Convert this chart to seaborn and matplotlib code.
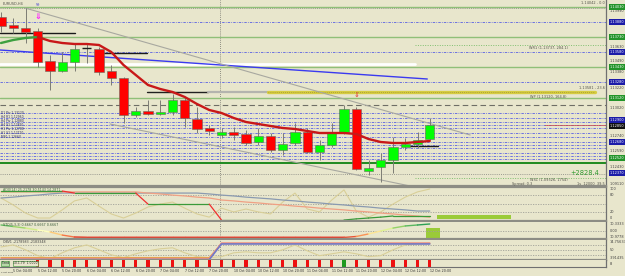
import numpy as np
import pandas as pd
import matplotlib
matplotlib.use("Agg")
import matplotlib.pyplot as plt
import matplotlib.transforms as mtransforms
import seaborn as sns

# ------------------------------------------------------------------ data
idx = list(range(36))
opens  = [1.1393,1.1385,1.1382,1.1379,1.1349,1.1339,1.1348,1.1362,1.1361,1.1339,1.1332,1.1295,
          1.1299,1.1296,1.1298,1.1310,1.1291,1.1282,1.1275,1.1278,1.1276,1.1268,1.1274,1.1260,
          1.1267,1.1278,1.1258,1.1265,1.1278,1.1301,1.1239,1.1243,1.1250,1.1263,1.1266,1.1271]
highs  = [1.1398,1.1392,1.1402,1.1382,1.1355,1.1358,1.1367,1.1367,1.1363,1.1345,1.1333,1.1303,
          1.1310,1.1310,1.1316,1.1313,1.1303,1.1285,1.1282,1.1283,1.1280,1.1282,1.1277,1.1277,
          1.1287,1.1282,1.1270,1.1287,1.1305,1.1303,1.1250,1.1257,1.1273,1.1272,1.1278,1.1292]
lows   = [1.1378,1.1377,1.1367,1.1343,1.1320,1.1338,1.1339,1.1347,1.1335,1.1325,1.1287,1.1293,
          1.1295,1.1295,1.1295,1.1283,1.1277,1.1275,1.1272,1.1270,1.1265,1.1265,1.1258,1.1255,
          1.1265,1.1257,1.1250,1.1263,1.1276,1.1240,1.1235,1.1228,1.1237,1.1260,1.1262,1.1270]
closes = [1.1384,1.1382,1.1378,1.1348,1.1339,1.1348,1.1361,1.1362,1.1338,1.1332,1.1295,1.1299,
          1.1296,1.1298,1.1310,1.1292,1.1281,1.1279,1.1278,1.1275,1.1267,1.1274,1.1260,1.1266,
          1.1278,1.1258,1.1265,1.1278,1.1301,1.1241,1.1242,1.1250,1.1263,1.1266,1.1270,1.1285]
ma_vals = [1.1367,1.1370,1.1372,1.1373,1.1369,1.1367,1.1366,1.1366,1.1365,1.1358,1.1345,1.1335,
           1.1325,1.1321,1.1318,1.1313,1.1306,1.1300,1.1297,1.1292,1.1288,1.1286,1.1284,1.1282,
           1.1281,1.1279,1.1277,1.1277,1.1277,1.1276,1.1271,1.1268,1.1267,1.1267,1.1268,1.1269]
ma_green_until = 3

x_labels = ["5 Oct 04:00","5 Oct 12:00","5 Oct 20:00","6 Oct 04:00","6 Oct 12:00","6 Oct 20:00",
            "7 Oct 04:00","7 Oct 12:00","7 Oct 20:00","10 Oct 04:00","10 Oct 12:00","10 Oct 20:00",
            "11 Oct 04:00","11 Oct 12:00","11 Oct 20:00","12 Oct 04:00","12 Oct 12:00","12 Oct 20:00"]
x_label_idx = [1,3,5,7,9,11,13,15,17,19,21,23,25,27,29,31,33,35]
first_date_label = "4 Oct 2022"

green_levels = [1.1403, 1.1373, 1.1343, 1.1312]
dark_green_level = 1.1247
blue_dot_levels = [1.1388,1.1358,1.1328,1.1297,1.1292,1.1288,1.1285,1.1282,1.1277,
                   1.1273,1.1268,1.1265,1.1262,1.1257,1.1254,1.1251]
gray_dot_levels = [1.1402, 1.1236]
green_dot_levels = [1.1365, 1.1232]
white_level = 1.1346
dash_level = 1.1305
yellow_level = 1.1318
short_black = [(-0.1, 6.0, 1.1377), (8.1, 11.9, 1.1357), (33.4, 35.7, 1.1264)]
blue_trend_x, blue_trend_y = [-0.1, 34.8], [1.1360, 1.1331]
gray_up_x, gray_up_y = [1.96, 38.3], [1.1402, 1.1275]
gray_lo_x, gray_lo_y = [8.9, 33.4], [1.1286, 1.1224]

right_plain = [1.1399,1.1363,1.1349,1.1338,1.1322,1.1302,1.1274,1.1259,1.1243]
right_green = [1.1403,1.1373,1.1343,1.1312,1.1252]
right_blue  = [1.1388,1.1358,1.1328,1.1290,1.1268,1.1237]
current_price = 1.1285

# indicator 1 (0..100)
sub1_a = [90]*12 + [86,83,79,76,72,69,62,59,55,52,48,45,41,38,34,31,28,24,21,17,14,10,7,3]
sub1_b = [69,72,76,79,83] + [86]*12 + [83,79,76,72,69,66,62,59,55,52,48,45,41,38,34,31,28,24,24]
sub1_c = [93]*6 + [86]*6 + [48]*6 + [-7]*11 + [-3,0,3,7,7,7,7]
sub1_d = [69,45,17,0,0,28,59,69,41,14,0,17,38,48,55,34,14,3,34,21,31,21,14,55,86,31,21,62,97,24,
          3,21,48,72,90,100]
box1_x, box1_y = [35.6, 41.6], [-3, 10]
# indicator 2 (0..1)
sub2_k = [0.93,0.82,0.71,0.57,0.43,0.21,0.07] + [0.04]*22 + [0.11,0.29,0.50,0.71,0.86,0.93,1.0]
sub2_sig_from, sub2_sig_to, sub2_sig_val = 6, 28, 0.0
box2_x, box2_y = [34.7, 35.8], [0.0, 0.71]
# indicator 3 (0..100)
sub3_w = [76,88,59,24,6,41,71,88,59,29,12,35,53,65,71,41,18,12,18,41,47,41,41,59,88,53,24,35,
          47,35,18,24,59,88,94,100]
sub3_e = [6]*18 + [100]*18
sub3_f = [0]*18 + [94]*18
sub3_g = [12]*18 + [97]*18
strip_signal = ['n']*3 + ['s']*25 + ['b'] + ['s']*7

# ------------------------------------------------------------------ style
BG = "#e8e6cc"
sns.set_theme(style="white", rc={"axes.facecolor": BG, "figure.facecolor": BG})
plt.rcParams["font.family"] = ["DejaVu Sans"]

W, H, DPI = 625, 276, 100
fig = plt.figure(figsize=(W / DPI, H / DPI), dpi=DPI, facecolor=BG)
AXR = 606
XL = (-1 / 12.25, (AXR - 1) / 12.25)
FS_AX = 2.5   # right axis / small label size
FS_T = 2.5    # small chart text


def px_axes(x0, y0, x1, y1):
    a = fig.add_axes([x0 / W, 1 - y1 / H, (x1 - x0) / W, (y1 - y0) / H])
    a.set_facecolor(BG)
    a.set_xlim(*XL)
    a.set_xticks([])
    a.set_yticks([])
    for s in a.spines.values():
        s.set_visible(False)
    a.spines["right"].set_visible(True)
    a.spines["right"].set_color("#707070")
    a.spines["right"].set_linewidth(0.9)
    return a


def sep(a, where):
    a.spines[where].set_visible(True)
    a.spines[where].set_color("#8c8c84")
    a.spines[where].set_linewidth(1.6)


ax = px_axes(0, 0, AXR, 186)
s1 = px_axes(0, 187, AXR, 221)
s2 = px_axes(0, 222, AXR, 239)
s3 = px_axes(0, 240, AXR, 260)
st = px_axes(0, 260, AXR, 267)
sep(ax, "bottom"); sep(s1, "top"); sep(s1, "bottom"); sep(s2, "bottom"); sep(s3, "bottom")
st.spines["bottom"].set_visible(True); st.spines["bottom"].set_color("#707070")
st.spines["bottom"].set_linewidth(0.8)

ax.set_ylim(1.1224, 1.1410)
s1.set_ylim(-10.3, 106.9)
s2.set_ylim(-0.071, 1.143)
s3.set_ylim(-2, 117.6)
st.set_ylim(0, 1)

# ------------------------------------------------------------------ main panel lines
for lv in green_levels:
    ax.axhline(lv, color="#8fbf78", lw=1.0, zorder=1)
ax.axhline(dark_green_level, color="#1f8a1f", lw=1.4, zorder=1)
for lv in blue_dot_levels:
    ax.axhline(lv, color="#6c72e0", lw=0.7, ls=(0, (2.5, 1.2, 0.8, 1.2)), zorder=1)
for lv in gray_dot_levels:
    ax.axhline(lv, color="#9a9a90", lw=0.7, ls=(0, (1, 1.2)), zorder=1)
for lv in green_dot_levels:
    ax.plot([33.8, XL[1]], [lv, lv], color="#7fbf6f", lw=0.7, ls=(0, (1, 1.5)), zorder=1)
ax.plot([XL[0], 33.8], [white_level, white_level], color="#ffffff", lw=2.0, zorder=1)
ax.axhline(dash_level, color="#6e6e66", lw=0.8, ls=(0, (5, 3)), zorder=1)
ax.plot([11.9, 16.9], [yellow_level] * 2, color="#202020", lw=1.0, zorder=2)
ax.plot([16.9, 21.8], [yellow_level] * 2, color="#b4b4ae", lw=1.6, zorder=2)
ax.plot([21.8, 48.5], [yellow_level] * 2, color="#d6cc40", lw=2.4, zorder=2)
ax.plot([21.8, 48.5], [yellow_level] * 2, color="#8a8030", lw=0.5, ls=(0, (1, 2)), zorder=2)
for x0, x1, lv in short_black:
    ax.plot([x0, x1], [lv, lv], color="#1a1a1a", lw=1.0, zorder=2)
sns.lineplot(x=blue_trend_x, y=blue_trend_y, ax=ax, color="#3a3af0", lw=1.0, zorder=2)
sns.lineplot(x=gray_up_x, y=gray_up_y, ax=ax, color="#a8a8a0", lw=0.8, zorder=2)
sns.lineplot(x=gray_lo_x, y=gray_lo_y, ax=ax, color="#a8a8a0", lw=0.8, zorder=2)
ax.axhline(current_price, xmin=0.9, color="#d04040", lw=0.5, zorder=2)

# candles
for i, o, h, l, c in zip(idx, opens, highs, lows, closes):
    ax.vlines(i, l, h, color="#7c7c74", lw=0.7, zorder=4)
    if abs(c - o) < 1e-9:
        ax.hlines(o, i - 0.37, i + 0.37, color="#202020", lw=1.0, zorder=5)
    else:
        col = "#00ff00" if c > o else "#ff0000"
        ax.bar(i, abs(c - o), bottom=min(o, c), width=0.74, color=col,
               edgecolor="#6a6a60", lw=0.4, zorder=5)

# moving average
sns.lineplot(x=idx[:ma_green_until + 1], y=ma_vals[:ma_green_until + 1], ax=ax,
             color="#3da040", lw=1.7, zorder=6)
sns.lineplot(x=idx[ma_green_until:], y=ma_vals[ma_green_until:], ax=ax,
             color="#c81818", lw=1.7, zorder=6)

# arrows
ax.text(3, highs[3] + 0.0007, "\u21d3", color="#ff20ff", fontsize=6, ha="center", va="bottom",
        fontweight="bold", zorder=7)
ax.text(29, highs[29] + 0.0009, "\u21d3", color="#e03030", fontsize=5, ha="center", va="bottom", zorder=7)

# main texts
T = dict(fontsize=FS_T, color="#505048")
XR = AXR / 12.25 - 0.15
ax.text(0.1, 1.1406, "EURUSD,H4", va="center", **T)
ax.text(2.8, 1.1406, "\u00a7\u00a7", color="#3a3ad0", fontsize=3.2, va="center")
ax.text(XR, 1.14045, "1.14042 - 0.0", ha="right", va="bottom", **T)
ax.text(44.7, 1.1362, "WR1 (1.13737, 284.1)", ha="center", va="center", **T)
ax.text(XR, 1.1320, "1.13581 - 23.6", ha="right", va="bottom", **T)
ax.text(44.7, 1.1313, "WP (1.13120, 164.8)", ha="center", va="center", **T)
ax.text(48.8, 1.1237, "+2828.4", ha="right", va="center", fontsize=4.8, color="#2f9a2f")
ax.text(44.7, 1.1230, "WS1 (1.09326, 1754)", ha="center", va="center", **T)
ax.text(41.7, 1.12265, "Spread: 0.3", ha="left", va="center", **T)
ax.text(XR, 1.12265, "1s  12000  39.5", ha="right", va="center", **T)
left_txt = ["D1 Piv 1.13120", "H4 R1 1.12960", "H4 Piv 1.12880", "H4 S1 1.12820",
            "H1 Piv 1.12780", "H1 S1 1.12710", "M30 1.12660"]
for k, t in enumerate(left_txt):
    ax.text(0.0, 1.1297 - k * 0.0004, t, fontsize=2.2, color="#2a2a60", va="center")

# right axis of main
tr = mtransforms.blended_transform_factory(ax.transAxes, ax.transData)
R = dict(transform=tr, fontsize=FS_AX, va="center", ha="left", clip_on=False)
for p in right_plain:
    ax.text(1.006, p, f"{p:.5f}", color="#404040", **R)
for p in right_green:
    ax.text(1.006, p, f"{p:.5f}", color="#ffffff",
            bbox=dict(boxstyle="square,pad=0.2", fc="#23942a", ec="none"), **R)
for p in right_blue:
    ax.text(1.006, p, f"{p:.5f}", color="#ffffff",
            bbox=dict(boxstyle="square,pad=0.2", fc="#1c1ca8", ec="none"), **R)
ax.text(1.006, current_price - 0.0001, f"{current_price:.5f}", color="#ffffff",
        bbox=dict(boxstyle="square,pad=0.2", fc="#101010", ec="none"), **R)
ax.text(1.006, 1.12265, "1.09110", color="#404040", **R)

# ------------------------------------------------------------------ sub 1
for g in (80, 50, 20):
    s1.axhline(g, color="#a0a098", lw=0.6, ls=(0, (1.5, 1.5)))
sns.lineplot(x=idx, y=sub1_d, ax=s1, color="#d9cf98", lw=0.8)
sns.lineplot(x=idx, y=sub1_b, ax=s1, color="#8a9ab0", lw=0.9)
sns.lineplot(x=idx, y=sub1_a, ax=s1, color="#f0a084", lw=0.9)
for i in range(len(sub1_c) - 1):
    col = "#f03030" if sub1_c[i + 1] < sub1_c[i] else "#3a9a3a"
    s1.plot([i, i + 1], sub1_c[i:i + 2], color=col, lw=0.9)
s1.fill_between(box1_x, box1_y[0], box1_y[1], color="#9acb38", lw=0)
s1.text(0.2, 97, "ADX(14) 25.2178 30.5143 14.2871", fontsize=2.3, color="#3e6a3e", va="center")
tr1 = mtransforms.blended_transform_factory(s1.transAxes, s1.transData)
R1 = dict(transform=tr1, fontsize=FS_AX, color="#404040", va="center", clip_on=False)
for v, t in ((100, "100"), (80, "80"), (20, "20"), (0, "0")):
    s1.text(1.006, v, t, **R1)

# ------------------------------------------------------------------ sub 2
s2.axhline(0.5, color="#a0a098", lw=0.6, ls=(0, (1.5, 1.5)))
s2.plot(idx[sub2_sig_from:sub2_sig_to + 1], [sub2_sig_val] * (sub2_sig_to - sub2_sig_from + 1),
        color="#f0a090", lw=2.6)
cm = plt.get_cmap("RdYlGn")
for i in range(len(sub2_k) - 1):
    s2.plot([i, i + 1], sub2_k[i:i + 2], color=cm(0.1 + 0.8 * (sub2_k[i] + sub2_k[i + 1]) / 2),
            lw=1.0)
s2.fill_between(box2_x, box2_y[0], box2_y[1], color="#9acb38", lw=0)
s2.text(0.2, 0.9, "STO(5,3,3) 0.6667 0.6667 0.6667", fontsize=2.3, color="#3a5a3a", va="center")
tr2 = mtransforms.blended_transform_factory(s2.transAxes, s2.transData)
R2 = dict(transform=tr2, fontsize=FS_AX, color="#404040", va="center", clip_on=False)
for v, t in ((1.0, "10.3333"), (0.5, "0.00"), (0.1, "10.9778")):
    s2.text(1.006, v, t, **R2)

# ------------------------------------------------------------------ sub 3
for g in (88, 59, 29):
    s3.axhline(g, color="#a0a098", lw=0.6, ls=(0, (1.5, 1.5)))
sns.lineplot(x=idx, y=sub3_w, ax=s3, color="#d9cf98", lw=0.8)
sns.lineplot(x=idx, y=sub3_g, ax=s3, color="#e8a050", lw=1.0)
sns.lineplot(x=idx, y=sub3_e, ax=s3, color="#f09488", lw=1.0)
sns.lineplot(x=idx, y=sub3_f, ax=s3, color="#7078c8", lw=1.2)
s3.text(0.2, 106, "OBV1 -2178983 -2183348", fontsize=2.3, color="#404040", va="center")
tr3 = mtransforms.blended_transform_factory(s3.transAxes, s3.transData)
R3 = dict(transform=tr3, fontsize=FS_AX, color="#404040", va="center", clip_on=False)
for v, t in ((106, "14.75633"), (59, "50"), (12, "3.91435")):
    s3.text(1.006, v, t, **R3)

# ------------------------------------------------------------------ strip + x labels
for i, sgn in zip(idx, strip_signal):
    if sgn == "n":
        continue
    st.bar(i, 0.9, bottom=0.05, width=0.26, color="#1e9a1e" if sgn == "b" else "#ee1010", lw=0)
st.text(0.0, 0.5, "Trend", fontsize=2.2, color="#202020", va="center",
        bbox=dict(boxstyle="square,pad=0.1", fc="#b8d8a8", ec="#2a8a2a", lw=0.4))
st.text(1.0, 0.5, "10.1.79  1.0000", fontsize=2.2, color="#202020", va="center",
        bbox=dict(boxstyle="square,pad=0.1", fc="#e8e6cc", ec="#2a8a2a", lw=0.4))
st.set_xticks(x_label_idx)
st.set_xticklabels(x_labels, fontsize=2.3, color="#303030", ha="left")
st.tick_params(axis="x", length=0, pad=1.4)
st.text(0.001, -0.78, first_date_label, transform=mtransforms.blended_transform_factory(
    fig.transFigure, st.transAxes), fontsize=1.6, color="#303030", ha="left", va="center",
    clip_on=False)
st.text(1.006, 0.4, "8", transform=st.transAxes, fontsize=FS_AX, color="#303030", va="center",
        clip_on=False)

# period separator
for a in (ax, s1, s2, s3, st):
    a.axvline(17.9, color="#707068", lw=0.6, ls=(0, (1, 1.5)), zorder=0.5)

fig.savefig("out.png", dpi=DPI, facecolor=BG)
